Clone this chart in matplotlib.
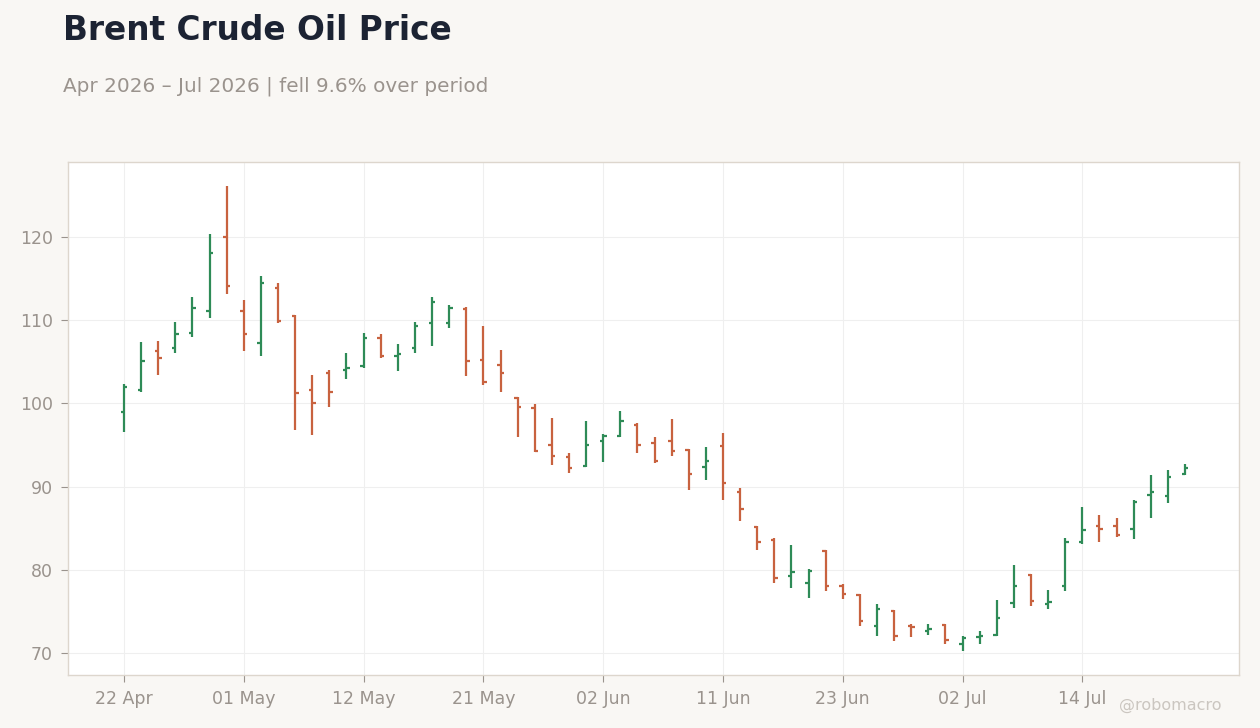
import matplotlib
matplotlib.use("Agg")
import matplotlib.pyplot as plt
import pandas as pd
import numpy as np

# ---- data ----
holidays = ["2026-05-25", "2026-06-19", "2026-07-03"]
dates = pd.bdate_range("2026-04-22", periods=63, freq="C", holidays=holidays)

opens = [99.0, 101.6, 106.3, 106.6, 108.4, 111.1, 120.0, 111.1, 107.2, 113.9,
         110.5, 101.6, 103.7, 104.0, 104.5, 107.8, 105.7, 106.7, 109.7, 109.6,
         111.3, 105.2, 104.6, 100.6, 99.5, 95.0, 93.5, 92.5, 95.5, 96.1,
         97.4, 95.2, 95.5, 94.4, 92.3, 94.9, 89.3, 85.1, 83.6, 79.3,
         78.4, 82.3, 78.1, 77.0, 73.2, 75.0, 73.3, 72.7, 73.4, 71.1,
         71.9, 72.2, 76.0, 79.4, 75.9, 78.1, 83.4, 85.3, 85.3, 84.9,
         89.0, 88.9, 91.5]
highs = [102.3, 107.4, 107.5, 109.8, 112.8, 120.4, 126.1, 112.4, 115.3, 114.5,
         110.6, 103.4, 104.0, 106.1, 108.5, 108.3, 107.1, 109.8, 112.8, 111.8,
         111.6, 109.3, 106.4, 100.8, 99.9, 98.2, 94.0, 97.9, 96.3, 99.1,
         97.6, 96.0, 98.1, 94.5, 94.8, 96.4, 89.8, 85.3, 83.8, 83.0,
         80.1, 82.4, 78.3, 77.1, 75.9, 75.2, 73.5, 73.5, 73.5, 72.0,
         72.6, 76.4, 80.6, 79.5, 77.6, 83.8, 87.6, 86.6, 86.2, 88.4,
         91.4, 92.0, 92.7]
lows = [96.6, 101.4, 103.4, 106.0, 108.0, 110.3, 113.1, 106.3, 105.7, 109.7,
        96.8, 96.2, 99.6, 102.9, 104.2, 105.4, 103.9, 106.1, 106.9, 109.0,
        103.3, 102.2, 101.4, 96.0, 94.2, 92.6, 91.6, 92.4, 92.9, 96.0,
        94.0, 92.8, 93.7, 89.6, 90.8, 88.4, 85.9, 82.4, 78.4, 77.8,
        76.6, 77.4, 76.5, 73.2, 72.1, 71.5, 71.9, 72.2, 71.1, 70.2,
        71.1, 72.1, 75.4, 75.7, 75.3, 77.4, 83.1, 83.4, 83.9, 83.7,
        86.2, 88.0, 91.4]
closes = [102.0, 105.1, 105.4, 108.3, 111.4, 118.1, 114.1, 108.3, 114.5, 109.9,
          101.3, 100.1, 101.4, 104.3, 107.9, 105.7, 105.9, 109.3, 112.2, 111.4,
          105.1, 102.6, 103.6, 99.6, 94.3, 93.7, 92.2, 95.0, 96.1, 97.9,
          95.0, 93.1, 94.3, 91.5, 93.1, 90.4, 87.3, 83.3, 79.0, 79.7,
          79.9, 78.0, 77.1, 73.8, 75.3, 72.1, 73.1, 72.9, 71.6, 71.8,
          72.1, 74.2, 78.1, 76.3, 76.1, 83.4, 84.8, 84.9, 84.2, 88.2,
          89.3, 91.1, 92.2]
yticks = [70, 80, 90, 100, 110, 120]
tick_every = 7

# ---- style ----
UP = "#2e8b57"
DOWN = "#c8623f"
BG = "#f9f7f4"
TXT = "#9a938d"

fig = plt.figure(figsize=(12.6, 7.28), dpi=100, facecolor=BG)
ax = fig.add_axes([0.054, 0.0728, 0.9293, 0.7047])
ax.set_facecolor("white")

x = np.arange(len(dates))
o = np.array(opens); h = np.array(highs); l = np.array(lows); c = np.array(closes)
colors = [UP if cc >= oo else DOWN for oo, cc in zip(o, c)]
hw = 0.2
ax.vlines(x, l, h, colors=colors, linewidth=1.6, zorder=3)
ax.hlines(o, x - hw, x, colors=colors, linewidth=1.6, zorder=3)
ax.hlines(c, x, x + hw, colors=colors, linewidth=1.6, zorder=3)

ax.set_xlim(-3.27, 65.15)
ax.set_ylim(67.36, 129.0)
ax.set_yticks(yticks)
ax.set_yticklabels([str(v) for v in yticks])
tick_idx = list(range(0, len(dates), tick_every))
ax.set_xticks(tick_idx)
ax.set_xticklabels([dates[i].strftime("%d %b") for i in tick_idx])

ax.grid(True, color="#efefef", linewidth=0.8, zorder=0)
ax.set_axisbelow(True)
for s in ax.spines.values():
    s.set_color("#ddd6cd")
    s.set_linewidth(1.0)
ax.tick_params(axis="both", colors="#9a938d", labelcolor=TXT, labelsize=12.5,
               length=5, width=0.8)
ax.tick_params(axis="x", pad=6)
ax.tick_params(axis="y", pad=6)

fig.text(63/1260, 1 - 31/728, "Brent Crude Oil Price", fontsize=23.6, fontweight="bold",
         color="#1c2333", ha="left", va="center")
fig.text(63/1260, 1 - 86/728, "Apr 2026 \u2013 Jul 2026 | fell 9.6% over period",
         fontsize=14.4, color=TXT, ha="left", va="center")
fig.text(1222/1260, 1 - 705/728, "@robomacro", fontsize=11.5, color="#cbc6c0",
         ha="right", va="center")

fig.savefig("out.png", dpi=100, facecolor=BG)
